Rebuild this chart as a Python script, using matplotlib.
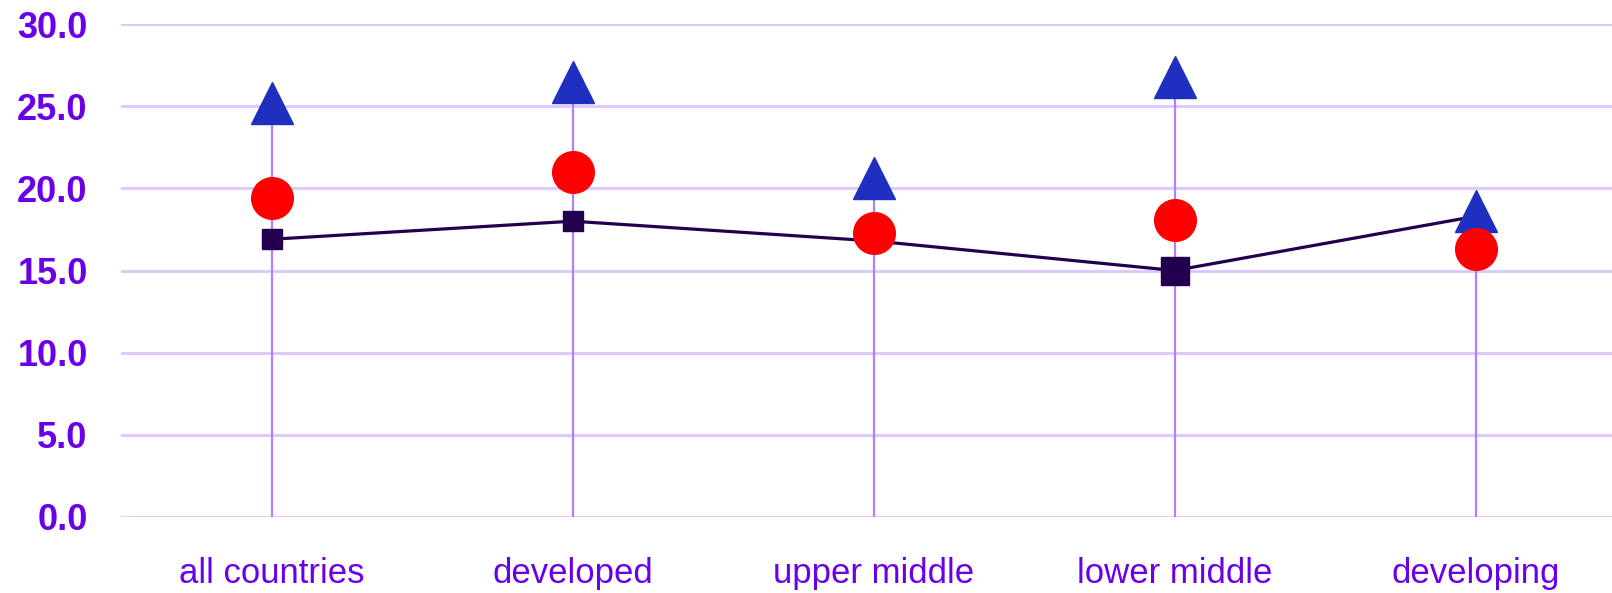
import matplotlib
matplotlib.use("Agg")
import matplotlib.pyplot as plt
from matplotlib import font_manager
import numpy as np

categories = ["all countries", "developed", "upper middle", "lower middle", "developing"]
high_values = [25.2, 26.5, 20.6, 26.8, 18.6]      # blue triangles
circle_values = [19.4, 21.0, 17.3, 18.1, 16.3]    # red circles
square_values = [16.9, 18.0, 16.8, 15.0, 18.3]    # dark line with squares
y_ticks = [0, 5, 10, 15, 20, 25, 30]

# style only
square_sizes = [14.5, 14.5, 14.5, 20, 9]

plt.rcParams['font.family'] = ['Liberation Sans', 'DejaVu Sans']
names = {f.name for f in font_manager.fontManager.ttflist}
narrow = "Liberation Sans Narrow" if "Liberation Sans Narrow" in names else "Liberation Sans"
xfs = 30 if narrow == "Liberation Sans Narrow" else 25

fig = plt.figure(figsize=(16.12, 5.93), dpi=100)
ax = fig.add_axes([121/1612, 76/593, 1 - 121/1612, (569-76)/593])

x = np.arange(len(categories))
purple_txt = "#6a00e8"

for yv in y_ticks:
    ax.axhline(yv, color="#dcc6ff", lw=2.0, zorder=0)

ax.vlines(x, 0, high_values, color="#b47cff", lw=1.6, zorder=1)

ax.plot(x, square_values, color="#22004e", lw=2.3, zorder=2, clip_on=False)
for xi, yi, s in zip(x, square_values, square_sizes):
    ax.plot(xi, yi, marker="s", ms=s, color="#22004e", mec="#22004e", zorder=2, clip_on=False)

ax.plot(x, high_values, ls="none", marker="^", ms=30, color="#1f2fbf", mec="#1f2fbf", zorder=3, clip_on=False)
ax.plot(x, circle_values, ls="none", marker="o", ms=30, color="#ff0000", mec="#ff0000", zorder=4, clip_on=False)

ax.set_ylim(0, 30)
ax.set_xlim(-0.5, 4.453)
ax.set_yticks(y_ticks)
ax.set_yticklabels([f"{v:.1f}" for v in y_ticks], fontsize=26, fontweight="bold", color=purple_txt)
ax.set_xticks(x)
ax.set_xticklabels(categories, fontsize=xfs, color=purple_txt, family=[narrow, "DejaVu Sans"])
ax.tick_params(axis="y", length=0, pad=24)
ax.tick_params(axis="x", length=0, pad=29)
for sp in ax.spines.values():
    sp.set_visible(False)
ax.set_facecolor("white")

fig.savefig("out.png", dpi=100, facecolor="white")
